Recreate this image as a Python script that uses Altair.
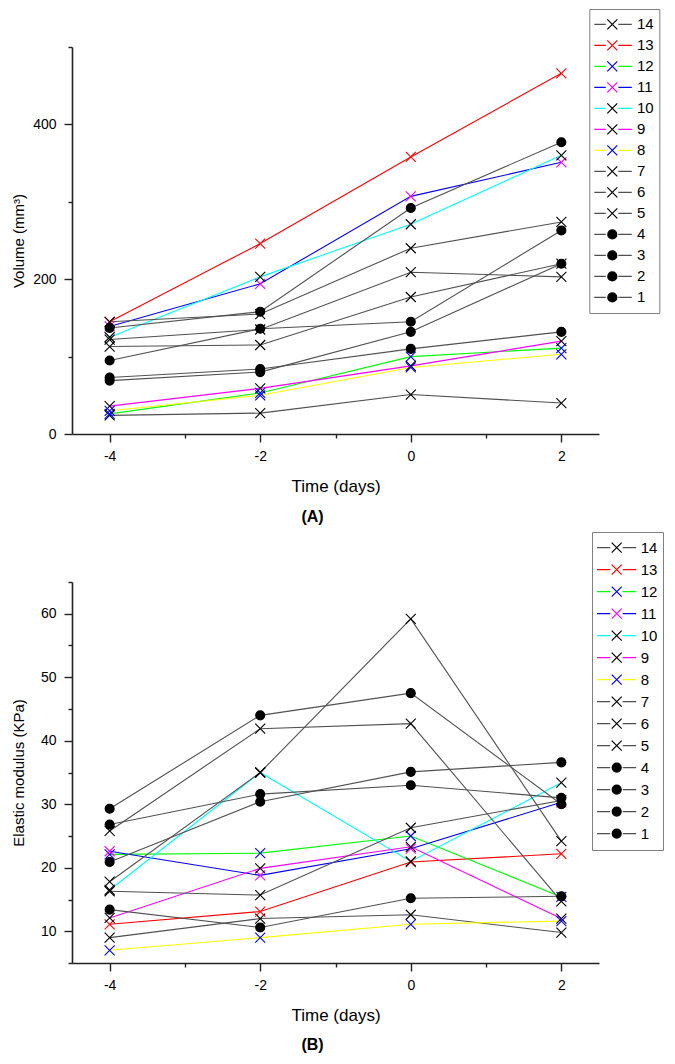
import altair as alt
import pandas as pd

FONT = "Liberation Sans"

times = [-4, -2, 0, 2]
series = ["14", "13", "12", "11", "10", "9", "8", "7", "6", "5", "4", "3", "2", "1"]

# Panel A: tumour volume (mm3)
vol_14 = [24, 27, 51, 40]
vol_13 = [145, 246, 358, 466]
vol_12 = [26, 53, 100, 111]
vol_11 = [139, 194, 307, 351]
vol_10 = [125, 203, 271, 360]
vol_9 = [36, 59, 88, 120]
vol_8 = [30, 50, 86, 103]
vol_7 = [145, 155, 240, 274]
vol_6 = [122, 135, 209, 203]
vol_5 = [113, 115, 177, 220]
vol_4 = [137, 158, 292, 377]
vol_3 = [95, 136, 145, 263]
vol_2 = [73, 84, 110, 132]
vol_1 = [69, 80, 132, 220]

# Panel B: elastic modulus (KPa)
mod_14 = [9.0, 12.0, 12.6, 9.8]
mod_13 = [11.1, 13.1, 20.9, 22.2]
mod_12 = [22.1, 22.3, 25.0, 15.4]
mod_11 = [22.6, 18.8, 23.0, 30.3]
mod_10 = [16.5, 35.0, 21.0, 33.4]
mod_9 = [12.1, 19.9, 23.3, 12.0]
mod_8 = [7.0, 9.0, 11.1, 11.6]
mod_7 = [17.8, 35.0, 59.2, 24.2]
mod_6 = [25.8, 41.9, 42.7, 14.7]
mod_5 = [16.3, 15.7, 26.3, 30.6]
mod_4 = [29.3, 44.0, 47.5, 30.0]
mod_3 = [26.8, 31.6, 33.0, 31.0]
mod_2 = [20.9, 30.4, 35.1, 36.6]
mod_1 = [13.4, 10.6, 15.2, 15.5]

# axis ticks: all tick positions and the labelled (major) ones
x_ticks = [-4, -3, -2, -1, 0, 1, 2]
x_major = [-4, -2, 0, 2]
vol_ticks = [0, 100, 200, 300, 400, 500]
vol_major = [0, 200, 400]
mod_ticks = [5, 10, 15, 20, 25, 30, 35, 40, 45, 50, 55, 60, 65]
mod_major = [10, 20, 30, 40, 50, 60]

line_colors = ["#505050", "#ff0000", "#00ff00", "#0000ff", "#00ffff", "#ff00ff", "#ffff00",
               "#505050", "#505050", "#505050", "#505050", "#505050", "#505050", "#505050"]
marker_colors = ["#000000", "#ff0000", "#0000ff", "#ff00ff", "#000000", "#000000", "#0000ff",
                 "#000000", "#000000", "#000000", "#000000", "#000000", "#000000", "#000000"]
marker_fills = ["transparent"] * 10 + ["#000000"] * 4

X_PATH = "M-0.5,-0.5L0.5,0.5M-0.5,0.5L0.5,-0.5"
DOT_PATH = "M-0.45,0A0.45,0.45,0,1,1,0.45,0A0.45,0.45,0,1,1,-0.45,0Z"
marker_shapes = [X_PATH] * 10 + [DOT_PATH] * 4
LEGEND_LINE = "M-2,0H-0.65M0.6,0H1.95"

vol_lists = [vol_14, vol_13, vol_12, vol_11, vol_10, vol_9, vol_8,
             vol_7, vol_6, vol_5, vol_4, vol_3, vol_2, vol_1]
mod_lists = [mod_14, mod_13, mod_12, mod_11, mod_10, mod_9, mod_8,
             mod_7, mod_6, mod_5, mod_4, mod_3, mod_2, mod_1]


def frame(lists):
    rows = []
    for name, vals in zip(series, lists):
        for t, v in zip(times, vals):
            rows.append({"s": name, "m": "m" + name, "t": t, "v": v})
    return pd.DataFrame(rows)


def major_test(values):
    return "indexof([" + ",".join(str(v) for v in values) + "], datum.value) >= 0"


def panel(df, y_dom, y_ticks, y_major, y_title, y_tpad, caption, lgx, lgy, sym_off,
          lab_off, clip_h, height, x_tpad, cap_off):
    x = alt.X(
        "t:Q",
        scale=alt.Scale(domain=[-4.5, 2.5], nice=False, zero=False),
        axis=alt.Axis(
            values=x_ticks,
            tickCount=30,
            labelExpr="'' + datum.value",
            labelOpacity={"condition": {"test": major_test(x_major), "value": 1}, "value": 0},
            labelOverlap=False,
            labelFlush=False,
            tickSize={"condition": {"test": major_test(x_major), "value": 8}, "value": 4},
            title="Time (days)",
            labelPadding=7,
            titlePadding=x_tpad,
            titleFontSize=17,
        ),
    )
    y = alt.Y(
        "v:Q",
        scale=alt.Scale(domain=y_dom, nice=False, zero=False),
        axis=alt.Axis(
            values=y_ticks,
            tickCount=30,
            labelExpr="'' + datum.value",
            labelOpacity={"condition": {"test": major_test(y_major), "value": 1}, "value": 0},
            labelOverlap=False,
            labelFlush=False,
            tickSize={"condition": {"test": major_test(y_major), "value": 8}, "value": 4},
            title=y_title,
            labelPadding=8,
            titlePadding=y_tpad,
            titleFontSize=15,
        ),
    )
    common = dict(
        orient="none", legendX=lgx, legendY=lgy, title=None,
        symbolSize=400, symbolStrokeWidth=1.2,
        clipHeight=clip_h, rowPadding=0, padding=5,
        labelFontSize=15, symbolOffset=sym_off, labelOffset=lab_off,
    )
    lines = alt.Chart(df).mark_line(strokeWidth=1.1).encode(
        x=x,
        y=y,
        color=alt.Color(
            "s:N",
            scale=alt.Scale(domain=series, range=line_colors),
            legend=alt.Legend(symbolType=LEGEND_LINE, strokeColor="#808080",
                              labelColor="#000000", **common),
        ),
        order=alt.Order("t:Q"),
    )
    mk_dom = ["m" + s for s in series]
    mk_legend = alt.Legend(labelExpr="''", **common)
    pts = alt.Chart(df).mark_point(size=400, strokeWidth=1.1, opacity=1).encode(
        x="t:Q",
        y="v:Q",
        shape=alt.Shape("m:N", scale=alt.Scale(domain=mk_dom, range=marker_shapes),
                        legend=mk_legend),
        stroke=alt.Stroke("m:N", scale=alt.Scale(domain=mk_dom, range=marker_colors),
                          legend=mk_legend),
        fill=alt.Fill("m:N", scale=alt.Scale(domain=mk_dom, range=marker_fills),
                      legend=mk_legend),
    )
    return alt.layer(lines, pts).properties(
        width=527,
        height=height,
        title=alt.TitleParams(caption, orient="bottom", anchor="middle", frame="group",
                              fontSize=16, fontWeight="bold", offset=cap_off, dx=-23),
    )


chart_a = panel(frame(vol_lists), [0, 500], vol_ticks, vol_major, "Volume (mm³)", 6,
                "(A)", 517.3, -38, 7, 13.6, 20.8, 387, 15, 15)
chart_b = panel(frame(mod_lists), [5, 65], mod_ticks, mod_major, "Elastic modulus (KPa)", 14,
                "(B)", 520, -50, 8.7, 13.0, 21.15, 381, 15, 14)

chart = alt.vconcat(chart_a, chart_b, spacing=6).resolve_scale(
    x="independent", y="independent", color="independent", stroke="independent",
    shape="independent", fill="independent",
).resolve_legend(
    color="independent", stroke="independent", shape="independent", fill="independent"
).properties(
    padding={"left": 3, "top": 0, "right": 0, "bottom": 0},
).configure_view(stroke=None).configure_axis(
    labelFont=FONT, titleFont=FONT, labelFontSize=14, labelColor="#000000",
    titleColor="#000000", titleFontWeight="normal", domainColor="#222222",
    tickColor="#222222", domainWidth=1.6, tickWidth=1.4, grid=False,
).configure_legend(labelFont=FONT).configure_title(font=FONT, color="#000000")

chart.save("out.html", embed_options={"renderer": "svg", "actions": False})
